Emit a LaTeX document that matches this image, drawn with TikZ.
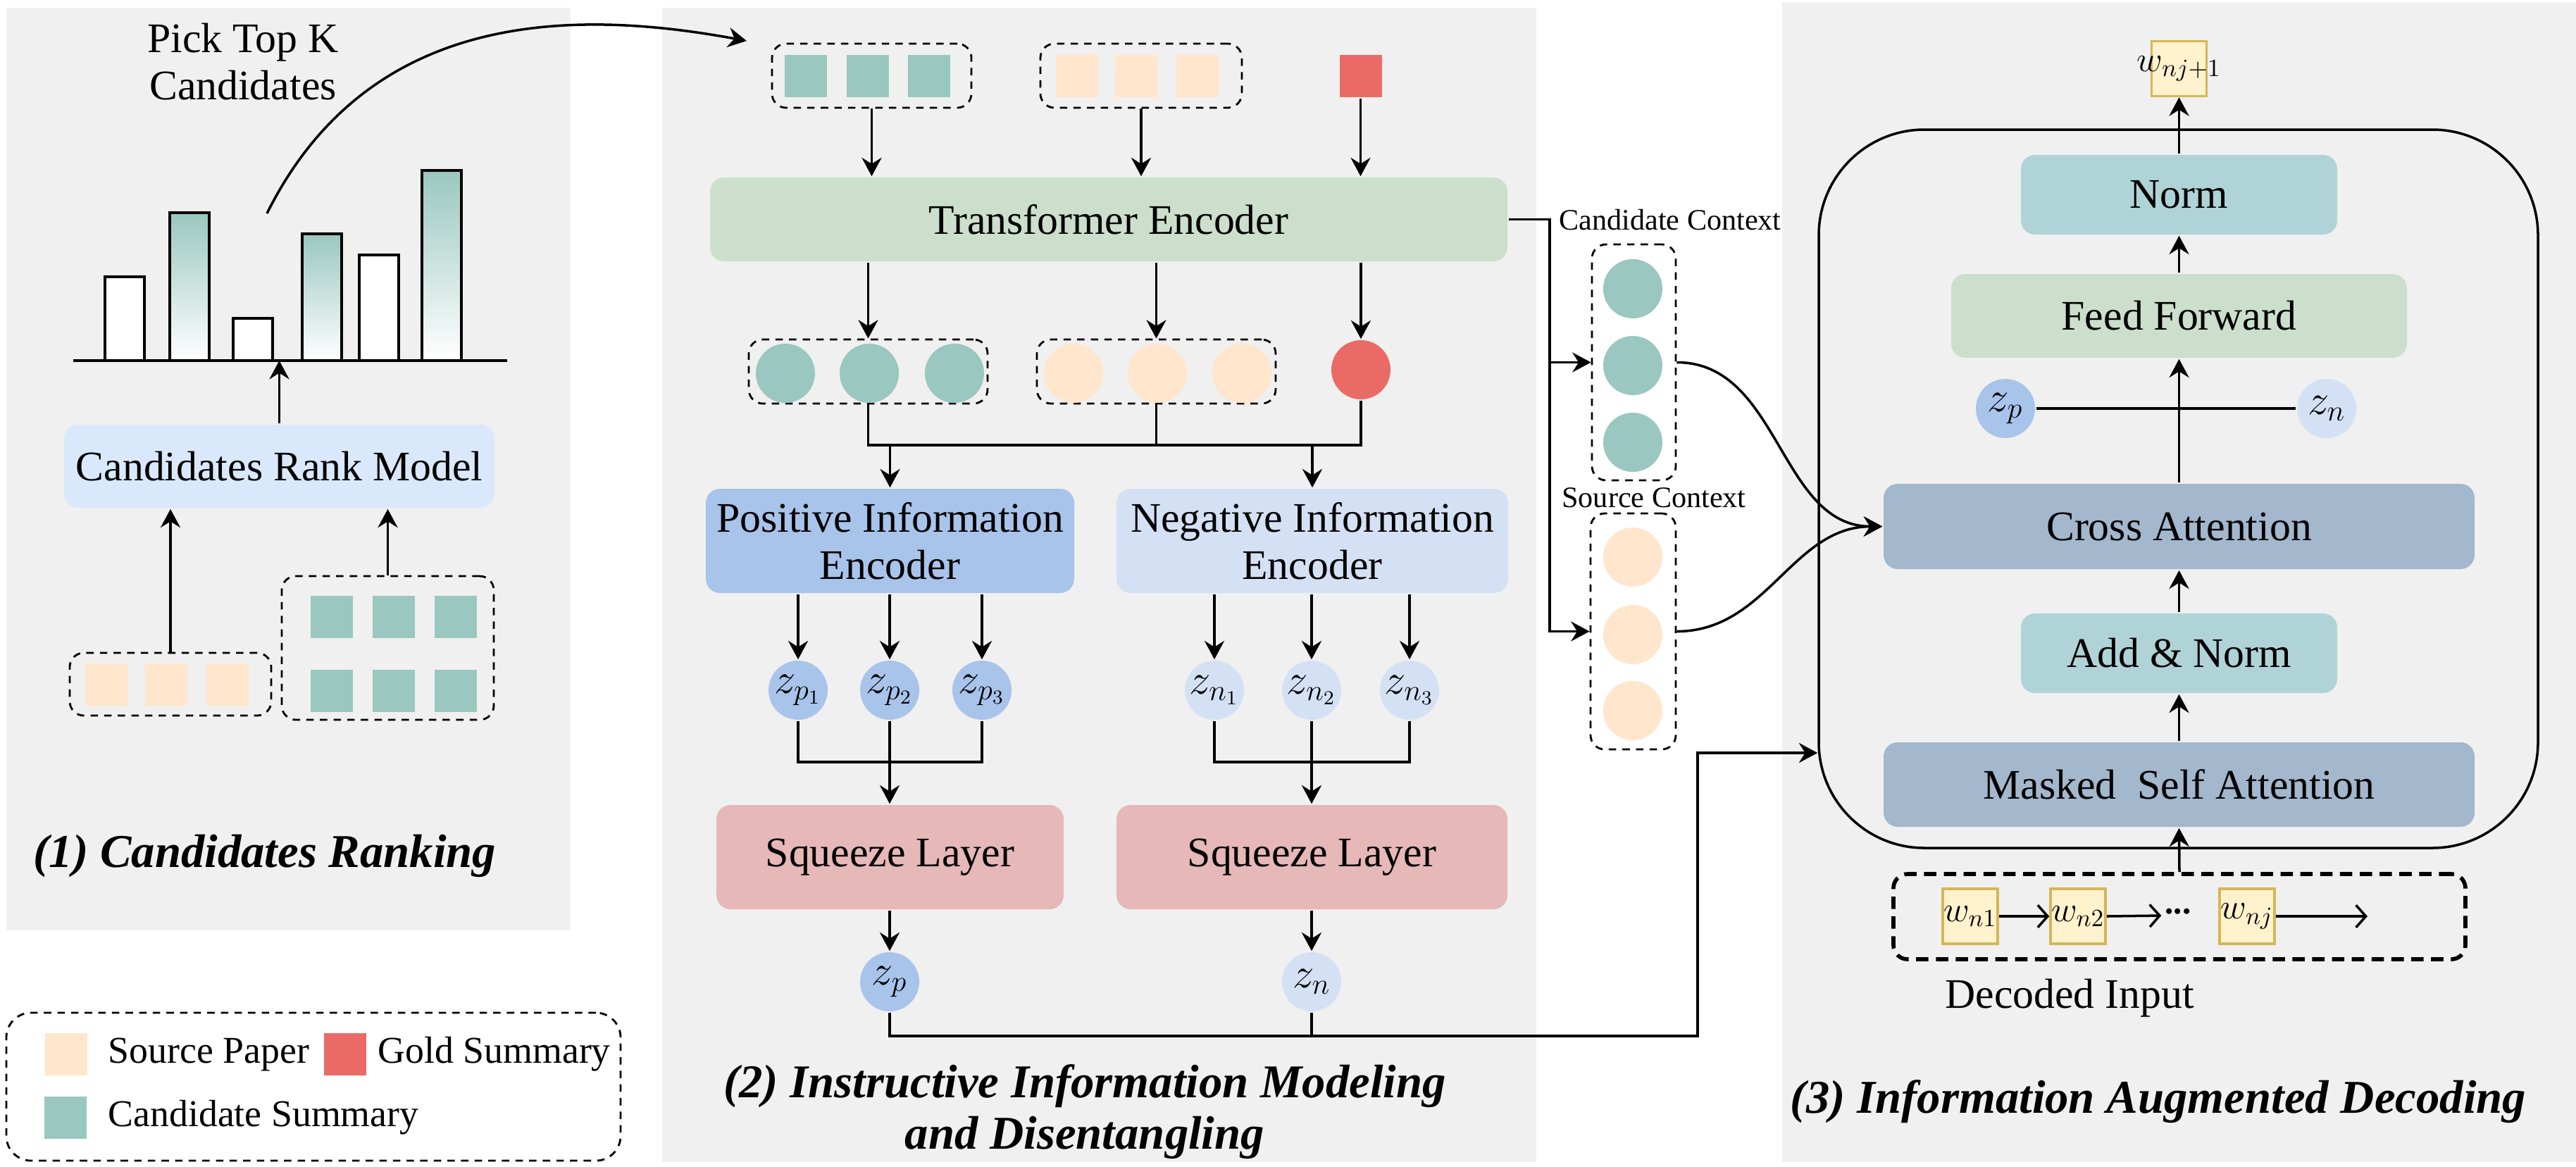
\documentclass[tikz,border=0pt]{standalone}
\usepackage{fontspec}
\setmainfont{Liberation Serif}
\usepackage{amsmath}
\usetikzlibrary{arrows.meta, positioning, calc}

\definecolor{panelc}{HTML}{F0F0F0}
\definecolor{tealc}{HTML}{9AC7BF}
\definecolor{peachc}{HTML}{FFE6CC}
\definecolor{goldc}{HTML}{EA6B66}
\definecolor{rankc}{HTML}{DAE8FC}
\definecolor{tec}{HTML}{CCDFCC}
\definecolor{posc}{HTML}{A9C4EB}
\definecolor{negc}{HTML}{D4E1F5}
\definecolor{sqzc}{HTML}{E6B8B7}
\definecolor{normc}{HTML}{B0D3D7}
\definecolor{attc}{HTML}{A3B7CD}
\definecolor{wfill}{HTML}{FFF2CC}
\definecolor{wdraw}{HTML}{D6B656}

\newcommand{\txtsz}{\fontsize{17}{19}\selectfont}
\newcommand{\lgsz}{\fontsize{15.3}{17}\selectfont}
\newcommand{\ttlsz}{\fontsize{19}{21}\selectfont\bfseries\itshape}
\newcommand{\ctxsz}{\fontsize{12}{14}\selectfont}
\newcommand{\wsz}{\fontsize{14}{16}\selectfont}

\tikzset{
  arr/.style={-{Stealth[length=7.5pt,width=8pt,inset=2.5pt]}, line width=1pt},
  oarr/.style={-{Straight Barb[length=4pt,width=9pt]}, line width=1pt},
  blk/.style={rounded corners=0.2cm, inner sep=0, font=\txtsz, align=center},
  grp/.style={draw, dash pattern=on 3pt off 2.5pt, rounded corners=0.2cm, line width=0.8pt, inner sep=0},
  tok/.style={minimum size=0.60cm, inner sep=0},
  emb/.style={circle, minimum size=0.84cm, inner sep=0, font=\txtsz},
  wtok/.style={draw=wdraw, fill=wfill, line width=1pt, minimum size=0.78cm, inner sep=0, font=\wsz},
  bar/.style={draw, line width=0.9pt},
  ttl/.style={font=\ttlsz, align=center},
  txt/.style={font=\txtsz, align=center},
  lgtxt/.style={font=\lgsz, anchor=west, inner sep=0},
  ctxlbl/.style={font=\ctxsz}
}

\begin{document}
\begin{tikzpicture}[x=1cm, y=-1cm, line width=1pt]
\useasboundingbox (0,0) rectangle (36.57,16.56);

% background panels
\fill[panelc] (0.09,0.11) rectangle (8.10,13.21);
\fill[panelc] (9.40,0.11) rectangle (21.81,16.50);
\fill[panelc] (25.30,0.03) rectangle (36.57,16.50);

% (1) candidates ranking
\foreach \xl/\yt in {1.49/3.93, 3.31/4.52, 5.10/3.62}
  \draw[bar, fill=white] (\xl,5.12) rectangle (\xl+0.56,\yt);
\foreach \xl/\yt in {2.41/3.02, 4.29/3.32, 5.99/2.42}
  \draw[bar, top color=tealc, bottom color=white] (\xl,5.12) rectangle (\xl+0.56,\yt);
\draw (1.04,5.12) coordinate (base0) -- (7.20,5.12);

\node[blk, fill=rankc, minimum width=6.11cm, minimum height=1.18cm] (rank) at (3.965,6.62) {Candidates Rank Model};
\draw[arr] (rank.north) -- (rank.north |- base0);

\node[grp, minimum width=2.86cm, minimum height=0.89cm] (srcgrp) at (2.42,9.715) {};
\foreach \i/\x in {1/1.51, 2/2.36, 3/3.23}
  \node[tok, fill=peachc] (src\i) at (\x,9.715) {};
\node[grp, minimum width=3.01cm, minimum height=2.04cm] (candgrp) at (5.505,9.20) {};
\foreach \i/\x in {1/4.71, 2/5.585, 3/6.47} {
  \node[tok, fill=tealc] (cu\i) at (\x,8.76) {};
  \node[tok, fill=tealc] (cd\i) at (\x,9.805) {};
}
\draw[arr] (srcgrp.north) -- (srcgrp.north |- rank.south);
\draw[arr] (candgrp.north) -- (candgrp.north |- rank.south);

\node[txt] (pick) at (3.45,0.875) {Pick Top K\\Candidates};
\coordinate (pickst) at (3.79,3.03);
\coordinate (pickend) at (10.60,0.58);
\draw[arr] (pickst) .. controls (5.2,0.2) and (8.0,0.1) .. (pickend);

\node[ttl] (t1) at (3.76,12.15) {(1) Candidates Ranking};

% legend
\node[grp, rounded corners=0.35cm, minimum width=8.72cm, minimum height=2.10cm] (leg) at (4.45,15.43) {};
\node[tok, fill=peachc] (lsrc) at (0.94,14.965) {};
\node[tok, fill=goldc] (lgold) at (4.90,14.965) {};
\node[tok, fill=tealc] (lcand) at (0.93,15.865) {};
\node[lgtxt] (lsrct) at (1.52,14.97) {Source Paper};
\node[lgtxt] (lgoldt) at (5.35,14.97) {Gold Summary};
\node[lgtxt] (lcandt) at (1.52,15.87) {Candidate Summary};

% (2) instructive information modeling
\node[grp, minimum width=2.83cm, minimum height=0.91cm] (grpA) at (12.375,1.075) {};
\foreach \i/\x in {1/11.44, 2/12.32, 3/13.19}
  \node[tok, fill=tealc] (ta\i) at (\x,1.08) {};
\node[grp, minimum width=2.86cm, minimum height=0.91cm] (grpB) at (16.20,1.075) {};
\foreach \i/\x in {1/15.285, 2/16.13, 3/17.00}
  \node[tok, fill=peachc] (tb\i) at (\x,1.08) {};
\node[tok, fill=goldc] (gold) at (19.315,1.08) {};

\node[blk, fill=tec, minimum width=11.32cm, minimum height=1.19cm] (te) at (15.74,3.115) {Transformer Encoder};
\draw[arr] (grpA.south) -- (grpA.south |- te.north);
\draw[arr] (grpB.south) -- (grpB.south |- te.north);
\draw[arr] (gold.south) -- (gold.south |- te.north);

\node[grp, minimum width=3.39cm, minimum height=0.91cm] (grpC) at (12.325,5.275) {};
\foreach \i/\x in {1/11.15, 2/12.34, 3/13.55}
  \node[emb, fill=tealc] (ec\i) at (\x,5.30) {};
\node[grp, minimum width=3.39cm, minimum height=0.91cm] (grpD) at (16.415,5.275) {};
\foreach \i/\x in {1/15.24, 2/16.43, 3/17.63}
  \node[emb, fill=peachc] (ed\i) at (\x,5.30) {};
\node[emb, fill=goldc] (goldv) at (19.32,5.25) {};
\draw[arr] (te.south -| grpC.north) -- (grpC.north);
\draw[arr] (te.south -| grpD.north) -- (grpD.north);
\draw[arr] (te.south -| goldv.north) -- (goldv.north);

\node[blk, fill=posc, minimum width=5.23cm, minimum height=1.48cm] (pos) at (12.635,7.68) {Positive Information\\Encoder};
\node[blk, fill=negc, minimum width=5.56cm, minimum height=1.48cm] (neg) at (18.63,7.68) {Negative Information\\Encoder};

\coordinate (mrg) at (12.63,6.32);
\draw (grpC.south) |- (mrg -| goldv.south) -- (goldv.south);
\draw (grpD.south) -- (grpD.south |- mrg);
\draw[arr] (pos.north |- mrg) -- (pos.north);
\draw[arr] (neg.north |- mrg) -- (neg.north);

\foreach \i/\x in {1/11.33, 2/12.63, 3/13.94} {
  \node[emb, fill=posc] (zp\i) at (\x,9.80) {$z_{p_\i}$};
  \draw[arr] (pos.south -| zp\i) -- (zp\i.north);
}
\foreach \i/\x in {1/17.24, 2/18.62, 3/20.01} {
  \node[emb, fill=negc] (zn\i) at (\x,9.80) {$z_{n_\i}$};
  \draw[arr] (neg.south -| zn\i) -- (zn\i.north);
}

\node[blk, fill=sqzc, minimum width=4.93cm, minimum height=1.48cm] (sqp) at (12.635,12.17) {Squeeze Layer};
\node[blk, fill=sqzc, minimum width=5.55cm, minimum height=1.48cm] (sqn) at (18.625,12.17) {Squeeze Layer};

\coordinate (pj) at (12.63,10.82);
\draw (zp1.south) |- (pj -| zp3.south) -- (zp3.south);
\draw[arr] (zp2.south) -- (zp2.south |- sqp.north);
\draw (zn1.south) |- (pj -| zn3.south) -- (zn3.south);
\draw[arr] (zn2.south) -- (zn2.south |- sqn.north);

\node[emb, fill=posc] (zpf) at (12.63,13.94) {$z_p$};
\node[emb, fill=negc] (znf) at (18.62,13.94) {$z_n$};
\draw[arr] (sqp.south -| zpf) -- (zpf.north);
\draw[arr] (sqn.south -| znf) -- (znf.north);

\node[ttl] (t2) at (15.40,15.785) {(2) Instructive Information Modeling\\and Disentangling};

% context memories
\node[ctxlbl] (candlbl) at (23.71,3.12) {Candidate Context};
\node[grp, minimum width=1.19cm, minimum height=3.35cm] (candctx) at (23.195,5.145) {};
\foreach \i/\y in {1/4.10, 2/5.19, 3/6.28}
  \node[emb, fill=tealc] (cc\i) at (23.18,\y) {};
\node[ctxlbl] (srclbl) at (23.48,7.07) {Source Context};
\node[grp, minimum width=1.21cm, minimum height=3.35cm] (srcctx) at (23.185,8.965) {};
\foreach \i/\y in {1/7.91, 2/9.01, 3/10.09}
  \node[emb, fill=peachc] (sc\i) at (23.18,\y) {};

\coordinate (ctxv) at (22.00,3.115);
\draw[arr] (te.east) -- (ctxv) |- (srcctx.west);
\draw[arr] (ctxv |- candctx.west) -- (candctx.west);

% (3) decoder
\node[draw, rounded corners=1.5cm, minimum width=10.21cm, minimum height=10.20cm, line width=1pt] (dec) at (30.925,6.94) {};
\node[wtok] (wnext) at (30.935,0.975) {\makebox[0pt]{$w_{nj+1}$}};
\node[blk, fill=normc, minimum width=4.49cm, minimum height=1.13cm] (norm) at (30.935,2.765) {Norm};
\node[blk, fill=tec, minimum width=6.47cm, minimum height=1.19cm] (ff) at (30.935,4.485) {Feed Forward};
\node[emb, fill=posc] (zpd) at (28.47,5.80) {$z_p$};
\node[emb, fill=negc] (znd) at (33.03,5.80) {$z_n$};
\node[blk, fill=attc, minimum width=8.39cm, minimum height=1.21cm] (ca) at (30.935,7.475) {Cross Attention};
\node[blk, fill=normc, minimum width=4.49cm, minimum height=1.13cm] (an) at (30.935,9.275) {Add \& Norm};
\node[blk, fill=attc, minimum width=8.39cm, minimum height=1.20cm] (msa) at (30.935,11.14) {Masked\ \ Self Attention};

\draw[arr] (norm.north) -- (wnext.south);
\draw[arr] (ff.north) -- (norm.south);
\draw (zpd.east) -- (znd.west);
\draw[arr] (ca.north) -- (ff.south);
\draw[arr] (an.north) -- (ca.south);
\draw[arr] (msa.north) -- (an.south);

\node[grp, dash pattern=on 5pt off 3pt, line width=1.6pt, minimum width=8.12cm, minimum height=1.21cm] (dgrp) at (30.94,13.015) {};
\node[wtok] (wn1) at (27.97,13.01) {\makebox[0pt]{$w_{n1}$}};
\node[wtok] (wn2) at (29.50,13.01) {\makebox[0pt]{$w_{n2}$}};
\node[font=\wsz\bfseries, inner sep=1pt] (ell) at (30.92,13.0) {\raisebox{0.25em}{...}};
\node[wtok] (wnj) at (31.90,13.01) {\makebox[0pt]{$w_{nj}$}};
\coordinate (dend) at (33.61,13.01);
\draw[oarr] (wn1.east) -- (wn2.west);
\draw[oarr] (wn2.east) -- (ell.west);
\draw[oarr] (wnj.east) -- (dend);
\draw[arr] (dgrp.north) -- (msa.south);
\node[txt] (decin) at (29.38,14.17) {Decoded Input};

\draw[arr] (candctx.east) to[out=0, in=180] (ca.west);
\draw[arr] (srcctx.east) to[out=0, in=180] (ca.west);

\coordinate (bl) at (24.10,14.71);
\coordinate (decw) at ($(dec.west)+(0,3.75)$);
\draw[arr] (zpf.south) |- (bl) -- (bl |- decw) -- (decw);
\draw (znf.south) -- (znf.south |- bl);

\node[ttl] (t3) at (30.64,15.64) {(3) Information Augmented Decoding};
\end{tikzpicture}
\end{document}
